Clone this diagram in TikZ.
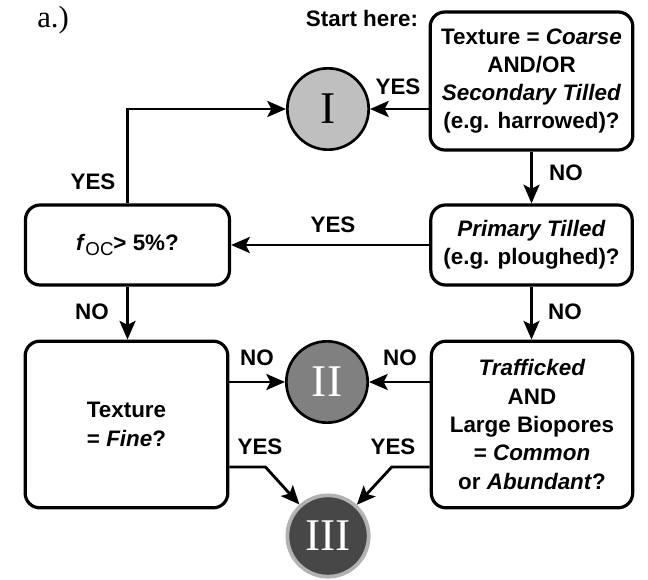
\documentclass[tikz,border=0pt]{standalone}
\usepackage{fontspec}
\setsansfont{Liberation Sans}
\newfontfamily\romanfont{Liberation Serif}
\usetikzlibrary{arrows.meta}

\tikzset{every picture/.style={line width=0.75pt}}
\tikzset{
  box/.style={draw, line width=2.4pt, rounded corners=11pt, align=center, inner sep=0pt,
    font=\sffamily\bfseries\fontsize{16.8}{21.2}\selectfont},
  lab/.style={font=\sffamily\bfseries\fontsize{16.8}{21.2}\selectfont, inner sep=1pt},
  zone/.style={circle, draw, line width=2pt, minimum size=61pt, inner sep=0pt,
    font=\romanfont\fontsize{34}{34}\selectfont},
  arr/.style={line width=2.1pt, -{Stealth[length=14pt,width=12pt,inset=3pt]}},
}

\begin{document}
\begin{tikzpicture}[x=0.75pt,y=0.75pt,yscale=-1,xscale=1]
\useasboundingbox (0,0) rectangle (648,580);

% Text Node
\node[font=\romanfont\fontsize{23}{23}\selectfont] (tag) at (53,20) {a.)};
% Text Node
\node[lab] (start) at (362,18) {Start here:};

%Shape: decision boxes
\node[box, minimum width=152pt, minimum height=103.5pt] (coarse) at (531.5,81)
  {Texture = \textit{Coarse}\\AND/OR\\\textit{Secondary Tilled}\\(e.g. harrowed)?};
\node[box, minimum width=153pt, minimum height=60pt] (foc) at (127.5,245)
  {\textit{f}\raisebox{-0.45ex}{\fontsize{14}{14}\selectfont\textmd{OC}}> 5\%?};
\node[box, minimum width=151pt, minimum height=60pt] (primary) at (531.5,245)
  {\textit{Primary Tilled}\\(e.g. ploughed)?};
\node[box, minimum width=152pt, minimum height=125pt] (fine) at (126.5,424.5)
  {Texture\\= \textit{Fine}?};
\node[box, minimum width=151pt, minimum height=125pt] (traffic) at (532,424.5)
  {\textit{Trafficked}\\AND\\Large Biopores\\= \textit{Common}\\or \textit{Abundant}?};

%Shape: class circles
\node[zone, fill=black!25] (one) at (328,109) {I};
\node[zone, fill=black!50, text=white] (two) at (327,382) {II};
\node[zone, fill=black!72, draw=black!30, line width=2.8pt, text=white] (three) at (328,536) {III};

% Connectors
\draw[arr] (coarse.west |- one) -- (one);
\draw[arr] (foc.north) |- (one);
\draw[arr] (coarse.south) -- (primary.north);
\draw[arr] (primary) -- (foc);
\draw[arr] (foc.south) -- (foc.south |- fine.north);
\draw[arr] (primary.south) -- (primary.south |- traffic.north);
\draw[arr] (fine.east |- two) -- (two);
\draw[arr] (traffic.west |- two) -- (two);
\draw[arr] (fine.east |- 0,467) -- ++(36,0) -- (three);
\draw[arr] (traffic.west |- 0,467) -- ++(-38,0) -- (three);

% Text Node
\node[lab] (yesA) at (398,87) {YES};
\node[lab] (yesB) at (93,182) {YES};
\node[lab] (noA) at (566,173) {NO};
\node[lab] (yesC) at (333,225) {YES};
\node[lab] (noB) at (92,312) {NO};
\node[lab] (noC) at (565,312) {NO};
\node[lab] (noD) at (257,358) {NO};
\node[lab] (noE) at (400,358) {NO};
\node[lab] (yesD) at (260,447) {YES};
\node[lab] (yesE) at (393,447) {YES};

\end{tikzpicture}
\end{document}
